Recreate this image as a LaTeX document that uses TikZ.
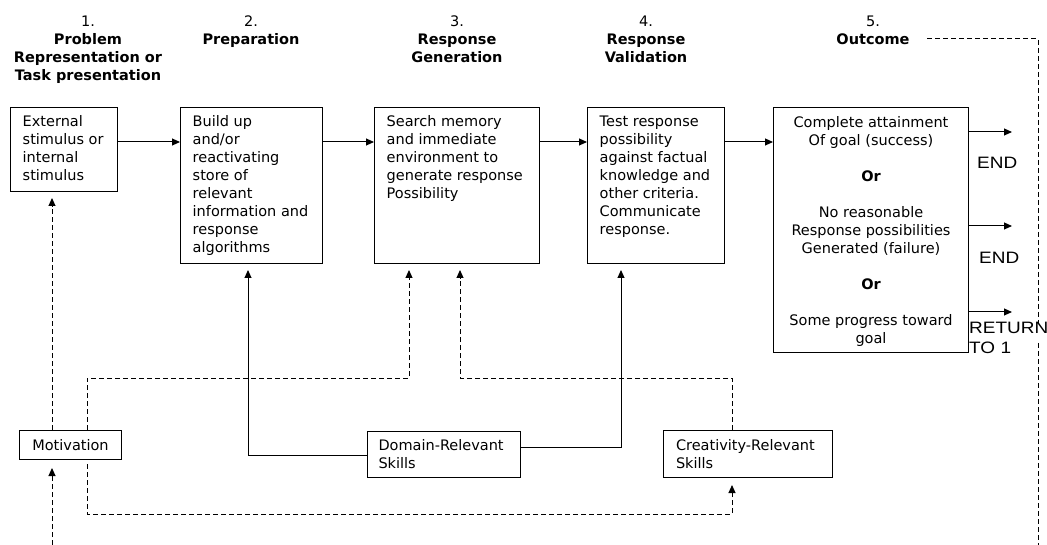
\documentclass[tikz,border=0pt]{standalone}
\usepackage{fontspec}
\setmainfont{DejaVu Sans}
\newfontfamily\endfont{Liberation Sans}
\usetikzlibrary{positioning,arrows.meta}

\begin{document}
\begin{tikzpicture}[x=1pt,y=-1pt,
    every node/.style={font=\fontsize{14.5}{18}\selectfont},
    box/.style={draw, line width=1pt, anchor=north west, inner sep=0pt},
    boxtext/.style={anchor=north west, align=left, inner sep=0pt},
    head/.style={anchor=north, align=center, inner sep=0pt},
    endlbl/.style={font=\endfont\fontsize{16.5}{20}\selectfont, anchor=north west, align=left, inner sep=0pt, xscale=1.15, transform shape},
    arr/.style={-{Triangle[length=8pt,width=7pt]}, line width=1pt},
    dashline/.style={line width=1pt, dash pattern=on 5pt off 3pt}]
    \useasboundingbox (0,0) rectangle (1047,545);

    % stage headings (first baseline = top + 12.6)
    \node[head] (h1) at (88,13.4) {\strut 1.\\\textbf{Problem}\\\textbf{Representation or}\\\textbf{Task presentation}};
    \node[head] (h2) at (251,13.4) {\strut 2.\\\textbf{Preparation}};
    \node[head] (h3) at (457,13.4) {\strut 3.\\\textbf{Response}\\\textbf{Generation}};
    \node[head] (h4) at (646,13.4) {\strut 4.\\\textbf{Response}\\\textbf{Validation}};
    \node[head] (h5) at (873,13.4) {\strut 5.\\\textbf{Outcome}};

    % stage boxes
    \node[box, minimum width=107pt, minimum height=84pt] (b1) at (10,107) {};
    \node[box, minimum width=142pt, minimum height=156pt] (b2) at (180,107) {};
    \node[box, minimum width=165pt, minimum height=156pt] (b3) at (374,107) {};
    \node[box, minimum width=137pt, minimum height=156pt] (b4) at (587,107) {};
    \node[box, minimum width=195pt, minimum height=245pt] (b5) at (773,107) {};

    \node[boxtext] (t1) at ([xshift=12.5pt,yshift=-6.4pt]b1.north west) {\strut External\\stimulus or\\internal\\stimulus};
    \node[boxtext] (t2) at ([xshift=12.5pt,yshift=-6.4pt]b2.north west) {\strut Build up\\and/or\\reactivating\\store of\\relevant\\information and\\response\\algorithms};
    \node[boxtext] (t3) at ([xshift=12.5pt,yshift=-6.4pt]b3.north west) {\strut Search memory\\and immediate\\environment to\\generate response\\Possibility};
    \node[boxtext] (t4) at ([xshift=12.5pt,yshift=-6.4pt]b4.north west) {\strut Test response\\possibility\\against factual\\knowledge and\\other criteria.\\Communicate\\response.};
    \node[head] (t5) at ([yshift=-7.4pt]b5.north) {\strut Complete attainment\\Of goal (success)\\[18pt]\textbf{Or}\\[18pt]No reasonable\\Response possibilities\\Generated (failure)\\[18pt]\textbf{Or}\\[18pt]Some progress toward\\goal};

    % components
    \node[box, minimum width=102pt, minimum height=29pt] (mot) at (19,430) {Motivation};
    \node[box, minimum height=46pt, text width=131pt, inner xsep=11pt, align=left] (dom) at (367,431) {Domain-Relevant\\Skills};
    \node[box, minimum height=47pt, text width=144pt, inner xsep=12.5pt, align=left] (cre) at (663,430) {Creativity-Relevant\\Skills};

    % main flow
    \coordinate (row) at (0,142);
    \draw[arr] (b1.east |- row) -- (b2.west |- row);
    \draw[arr] (b2.east |- row) -- (b3.west |- row);
    \draw[arr] (b3.east |- row) -- (b4.west |- row);
    \draw[arr] (b4.east |- row) -- (b5.west |- row);

    % outcomes
    \coordinate (e1) at (1012,132);
    \coordinate (e2) at (1012,226);
    \coordinate (e3) at (1012,312);
    \draw[arr] (e1 -| b5.east) -- (e1);
    \draw[arr] (e2 -| b5.east) -- (e2);
    \draw[arr] (e3 -| b5.east) -- (e3);
    \node[endlbl] (end1) at (977,154) {\strut END};
    \node[endlbl] (end2) at (979,249) {\strut END};
    \node[endlbl] (ret) at (969,319) {\strut RETURN\\TO 1};

    % loop back
    \coordinate (o1) at (927,39);
    \coordinate (o2) at (1038,39);
    \coordinate (o3) at (1038,323);
    \coordinate (o4) at (1038,343);
    \coordinate (o5) at (1038,545);
    \draw[dashline] (o1) -- (o2) -- (o3);
    \draw[dashline] (o4) -- (o5);

    % motivation
    \coordinate (m0) at (52,545);
    \draw[arr, dashline, shorten >=8pt] (m0) -- (mot.south -| m0);
    \draw[arr, dashline, shorten >=6pt] (mot.north -| m0) -- (b1.south -| m0);
    \coordinate (k1) at (87,378);
    \coordinate (k2) at (409,378);
    \draw[arr, dashline, shorten >=6pt] (mot.north -| k1) -- (k1) -- (k2) -- (b3.south -| k2);
    \coordinate (k3) at (87,514);
    \coordinate (k4) at (732,514);
    \draw[arr, dashline, shorten <=4pt, shorten >=7pt] (mot.south -| k3) -- (k3) -- (k4) -- (cre.south -| k4);

    % skills
    \coordinate (c1) at (732,378);
    \coordinate (c2) at (460,378);
    \draw[arr, dashline, shorten >=6pt] (cre.north -| c1) -- (c1) -- (c2) -- (b3.south -| c2);
    \coordinate (d1) at (248,455);
    \draw[arr, shorten >=6pt] (dom.west |- d1) -- (d1) -- (b2.south -| d1);
    \coordinate (d2) at (621,447);
    \draw[arr, shorten >=6pt] (dom.east |- d2) -- (d2) -- (b4.south -| d2);
\end{tikzpicture}
\end{document}
